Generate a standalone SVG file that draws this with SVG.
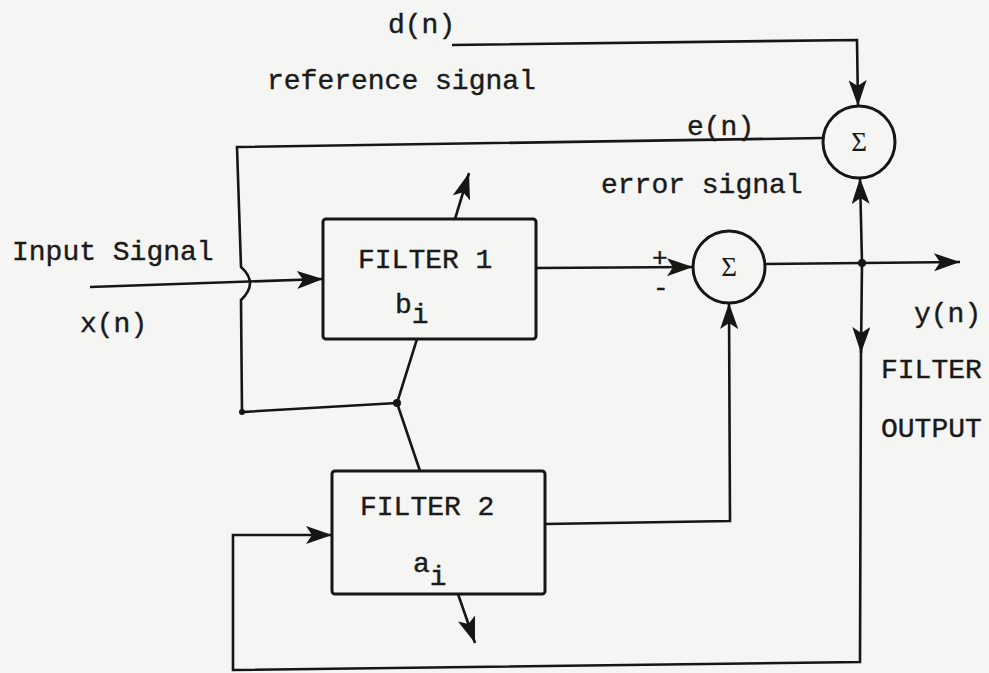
<svg xmlns="http://www.w3.org/2000/svg" width="989" height="673" viewBox="0 0 989 673">
<style>
.t{font-family:"Liberation Mono","Courier New",monospace;font-size:28px;fill:#1a1a1a;stroke:#1a1a1a;stroke-width:0.4px}
.sg{font-family:"Liberation Serif","DejaVu Serif",serif;font-size:27px;fill:#1a1a1a;text-anchor:middle}
.ln{fill:none;stroke:#161616;stroke-width:2.6;stroke-linejoin:miter}
.box{fill:none;stroke:#161616;stroke-width:3}
.dot{fill:#161616}
</style>
<defs>
<marker id="ah" viewBox="0 0 26 18" refX="26" refY="9" markerWidth="26" markerHeight="18" markerUnits="userSpaceOnUse" orient="auto">
<path d="M0,0 L26,9 L0,18 L6,9 z" fill="#161616"/>
</marker>
</defs>
<rect x="0" y="0" width="989" height="673" fill="#f5f5f3"/>

<g id="labels">
<text class="t" x="388" y="33">d(n)</text>
<text class="t" x="267" y="89">reference signal</text>
<text class="t" x="687" y="135">e(n)</text>
<text class="t" x="601" y="193">error signal</text>
<text class="t" x="12" y="260">Input Signal</text>
<text class="t" x="80" y="332">x(n)</text>
<text class="t" x="914" y="322">y(n)</text>
<text class="t" x="881" y="378">FILTER</text>
<text class="t" x="881" y="437">OUTPUT</text>
<text class="t" x="652" y="266" style="font-size:26px">+</text>
<text class="t" x="653" y="296" style="font-size:26px">-</text>
</g>

<g id="node-filter1">
<rect class="box" x="323" y="219" width="213" height="120" rx="3"/>
<text class="t" x="358" y="268">FILTER 1</text>
<text class="t" x="395" y="313">b<tspan dy="10">i</tspan></text>
</g>

<g id="node-filter2">
<rect class="box" x="332" y="471" width="213" height="123" rx="3"/>
<text class="t" x="360" y="515">FILTER 2</text>
<text class="t" x="413" y="572">a<tspan dy="13">i</tspan></text>
</g>

<g id="node-sum-output">
<circle class="box" cx="729" cy="267" r="36" stroke-width="2.6"/>
<text class="sg" x="729" y="276">Σ</text>
</g>

<g id="node-sum-error">
<circle class="box" cx="859" cy="142" r="36" stroke-width="2.6"/>
<text class="sg" x="859" y="151">Σ</text>
</g>

<g id="connectors">
<!-- reference signal d(n) -->
<path class="ln" d="M452,45 L857,40 L858,106" marker-end="url(#ah)"/>
<!-- error signal e(n) feedback to filter adaptation -->
<path class="ln" d="M823,138 L237,147 L241,267 Q259,283 241,300 L242,412 L397,403"/>
<circle class="dot" cx="242" cy="412" r="3"/>
<circle class="dot" cx="397" cy="403" r="4"/>
<path class="ln" d="M397,403 L417,339"/>
<path class="ln" d="M397,403 L420,471"/>
<path class="ln" d="M455,219 L469,173" marker-end="url(#ah)"/>
<path class="ln" d="M458,594 L475,643" marker-end="url(#ah)"/>
<!-- input x(n) -->
<path class="ln" d="M90,287 L323,279" marker-end="url(#ah)"/>
<!-- filter1 output -->
<path class="ln" d="M536,268 L693,267" marker-end="url(#ah)"/>
<!-- sum output y(n) -->
<path class="ln" d="M765,264 L960,262" marker-end="url(#ah)"/>
<circle class="dot" cx="862" cy="263" r="4"/>
<path class="ln" d="M862,263 L860,178" marker-end="url(#ah)"/>
<path class="ln" d="M862,263 L861,353" marker-end="url(#ah)"/>
<path class="ln" d="M861,348 L860,662 L233,670 L233,535 L332,535" marker-end="url(#ah)"/>
<!-- filter2 output -->
<path class="ln" d="M545,524 L730,521 L729,303" marker-end="url(#ah)"/>
</g>
</svg>
